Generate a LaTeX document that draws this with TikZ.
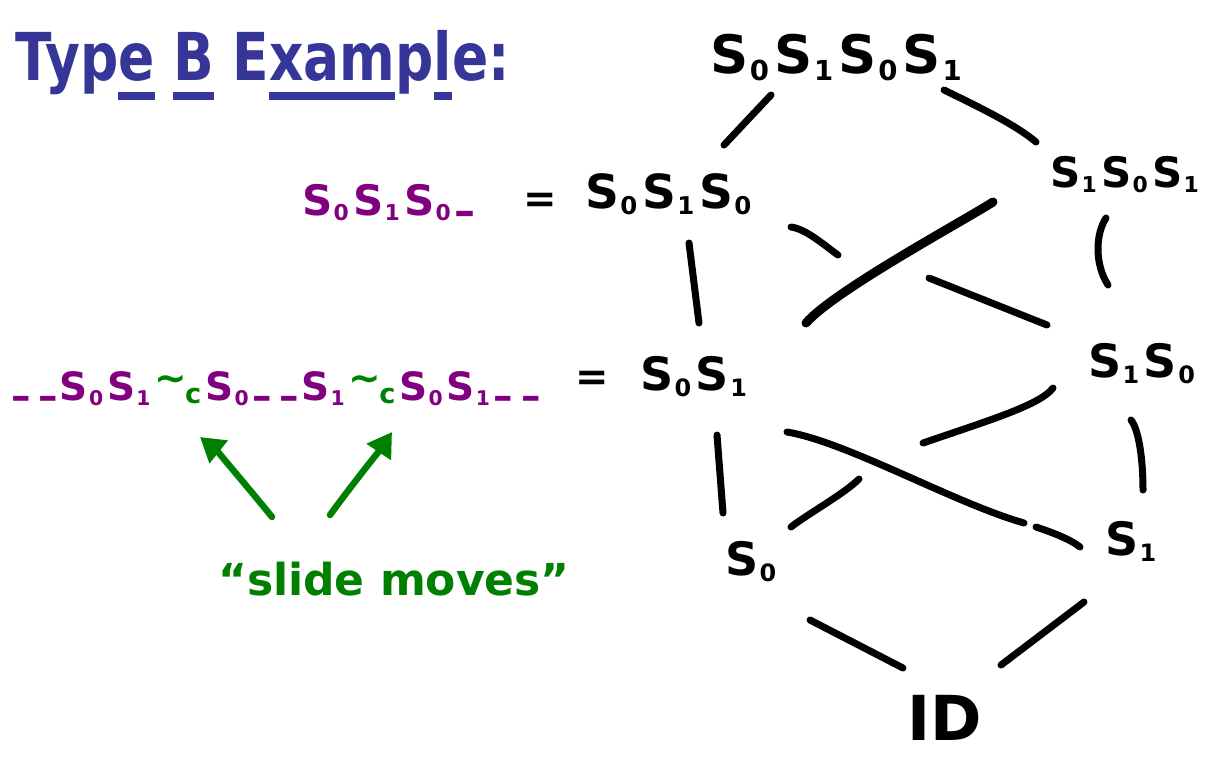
\documentclass[tikz,border=0pt]{standalone}
\usepackage{fontspec}
\setmainfont{DejaVu Sans}
\usetikzlibrary{calc,arrows.meta}
\definecolor{tblue}{RGB}{54,54,152}
\definecolor{pur}{RGB}{128,0,128}
\definecolor{grn}{RGB}{0,128,0}
\newcommand\Sg[1]{S\kern.03em\raisebox{-.14em}{\scalebox{.52}{#1}}\kern.1em}
\newcommand\Gc{{\color{grn}\raisebox{.22em}{\char`\~}\kern-.05em\raisebox{-.1em}{\scalebox{.7}{c}}}\kern.1em}
\newcommand\Dd{\raisebox{-.25em}{\textendash\kern.2em\textendash}\kern.05em}
\newcommand\Ul[1]{\setbox0=\hbox{#1}\rlap{\raisebox{-.3em}{\rule{\wd0}{.12em}}}\box0\relax}
\begin{document}
\begin{tikzpicture}[x=1pt,y=-1pt,
  every node/.style={inner sep=0pt,anchor=base west},
  fsz/.style={font=\fontsize{#1}{#1}\selectfont\bfseries},
  edge/.style={line width=7pt,line cap=round},
  garrow/.style={line width=6.5pt,line cap=round,draw=grn,-{Triangle[length=24pt,width=28pt]}}]
\useasboundingbox[fill=white] (0,0) rectangle (1209,756);
% title and left texts
\node[fsz=66,text=tblue] (title) at (15,80) {\scalebox{.81}[1]{Typ\Ul{e} \Ul{B} E\Ul{xam}p\Ul{l}e:}};
\node[fsz=42,text=pur] (p1) at (302,215) {\Sg0\Sg1\Sg0\raisebox{-.25em}{\textendash}};
\node[fsz=40] (eq1) at (523,212) {=};
\node[fsz=39,text=pur] (p2) at (11,400) {\Dd\Sg0\Sg1\Gc\Sg0\Dd\Sg1\Gc\Sg0\Sg1\Dd};
\node[fsz=40] (eq2) at (575,390) {=};
\node[fsz=44,text=grn] (g) at (218,595) {``slide moves''};
% lattice nodes
\node[fsz=53] (top) at (710,73) {\Sg0\Sg1\Sg0\Sg1};
\node[fsz=47] (s010) at (585,208) {\Sg0\Sg1\Sg0};
\node[fsz=42] (s101) at (1050,187) {\Sg1\Sg0\Sg1};
\node[fsz=46] (s01) at (640,390) {\Sg0\Sg1};
\node[fsz=46] (s10) at (1088,377) {\Sg1\Sg0};
\node[fsz=46] (s0) at (725,575) {\Sg0};
\node[fsz=46] (s1) at (1105,555) {\Sg1};
\node[fsz=62] (id) at (907,740) {ID};
% edges
\draw[edge] ([shift={(61,22)}]top.base west) -- ([shift={(139,-63)}]s010.base west);
\draw[edge] ([shift={(234,17)}]top.base west) .. controls +(35,17) and +(-20,-17) .. ([shift={(-14,-45)}]s101.base west);
\draw[edge] ([shift={(104,35)}]s010.base west) -- ([shift={(59,-67)}]s01.base west);
\draw[edge] ([shift={(206,19)}]s010.base west) .. controls +(15,2) and +(-14,-10) .. ([shift={(253,47)}]s010.base west);
\draw[edge] ([shift={(-159,-99)}]s10.base west) -- ([shift={(-41,-52)}]s10.base west);
\draw[edge,line width=9pt] ([shift={(166,-67)}]s01.base west) .. controls +(28,-32) and +(-35,22) .. ([shift={(-57,15)}]s101.base west);
\draw[edge] ([shift={(56,31)}]s101.base west) .. controls +(-11,17) and +(-13,-20) .. ([shift={(20,-92)}]s10.base west);
\draw[edge] ([shift={(77,45)}]s01.base west) -- ([shift={(-2,-62)}]s0.base west);
\draw[edge] ([shift={(147,42)}]s01.base west) .. controls +(60,10) and +(-70,-20) .. ([shift={(-81,-32)}]s1.base west);
\draw[edge] ([shift={(-69,-28)}]s1.base west) .. controls +(15,5) and +(-10,-8) .. ([shift={(-25,-8)}]s1.base west);
\draw[edge] ([shift={(-35,11)}]s10.base west) .. controls +(-13,17) and +(67,-23) .. ([shift={(-165,66)}]s10.base west);
\draw[edge] ([shift={(134,-96)}]s0.base west) .. controls +(-15,15) and +(15,-12) .. ([shift={(66,-48)}]s0.base west);
\draw[edge] ([shift={(43,43)}]s10.base west) .. controls +(8,10) and +(0,-30) .. ([shift={(38,-65)}]s1.base west);
\draw[edge] ([shift={(85,45)}]s0.base west) -- ([shift={(-4,-72)}]id.base west);
\draw[edge] ([shift={(-21,47)}]s1.base west) -- ([shift={(94,-75)}]id.base west);
% green arrows
\draw[garrow] ([shift={(54,-78)}]g.base west) .. controls +(-20,-25) and +(15,12) .. ([shift={(-18,-158)}]g.base west);
\draw[garrow] ([shift={(112,-80)}]g.base west) .. controls +(18,-25) and +(-10,15) .. ([shift={(174,-163)}]g.base west);
\end{tikzpicture}
\end{document}
